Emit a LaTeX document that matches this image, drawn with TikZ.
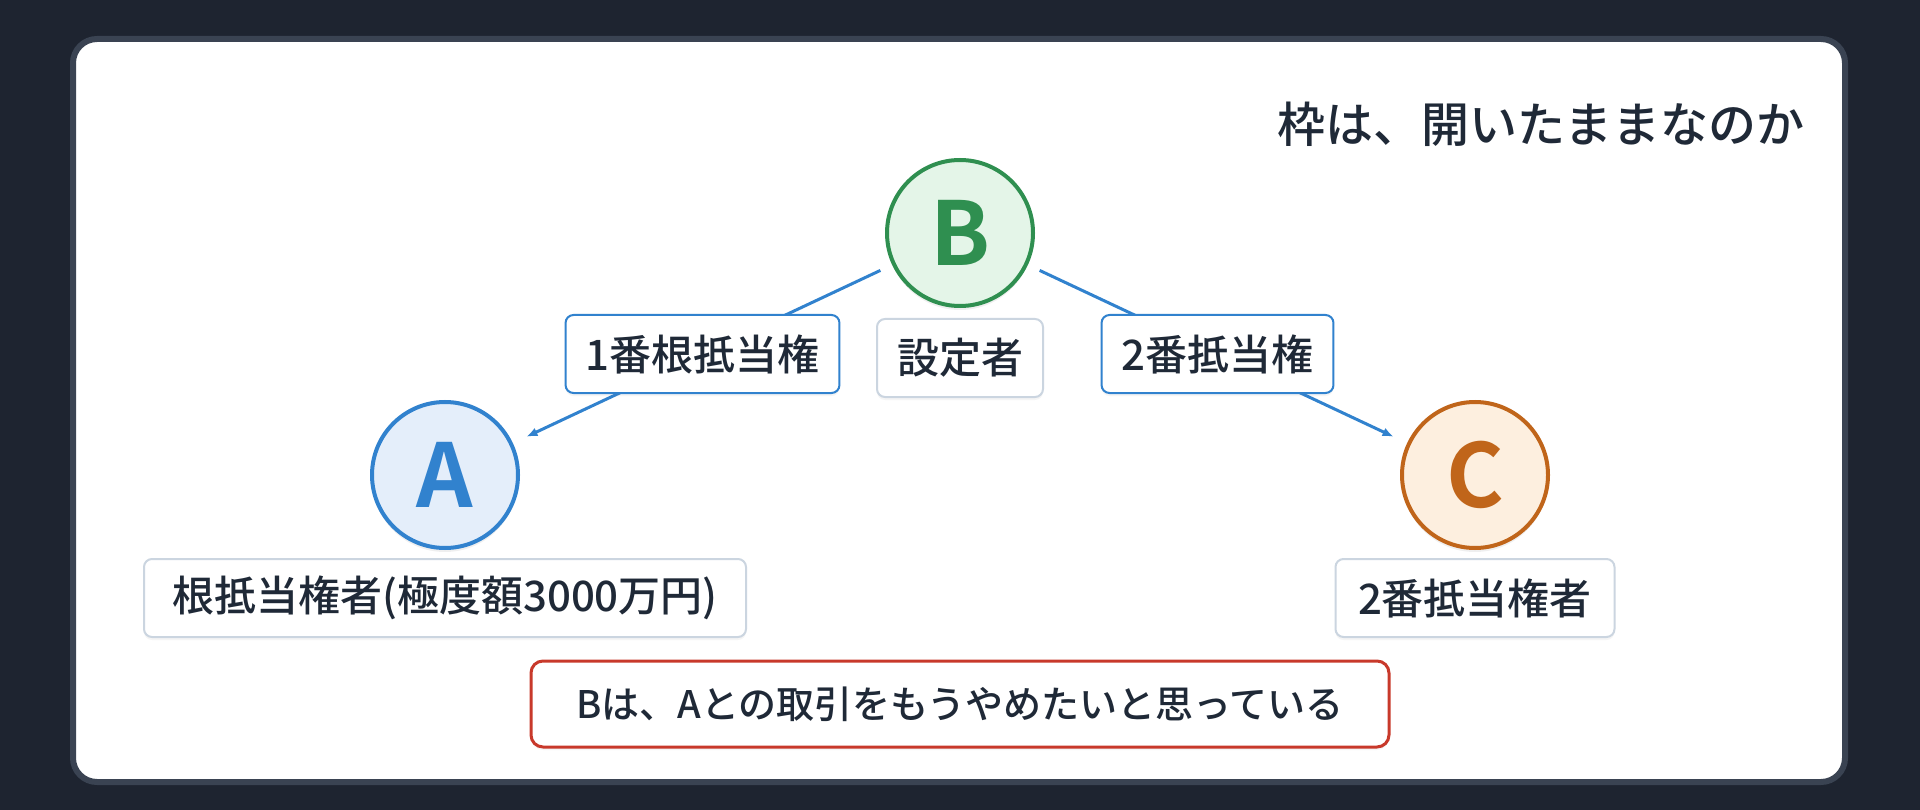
\documentclass[tikz,border=0pt]{standalone}
\usepackage{fontspec}
\setmainfont{Noto Sans CJK JP}[UprightFont={* Medium}, BoldFont={* Bold}]
\usetikzlibrary{arrows.meta,shadows}
\definecolor{bgdark}{HTML}{1E2430}
\definecolor{panelline}{HTML}{3A4352}
\definecolor{ink}{HTML}{1F2937}
\definecolor{blueline}{HTML}{3182CE}
\definecolor{bluefill}{HTML}{E4EEFA}
\definecolor{greenline}{HTML}{2F8F50}
\definecolor{greenfill}{HTML}{E4F5E8}
\definecolor{orangeline}{HTML}{C0651A}
\definecolor{orangefill}{HTML}{FDEFDF}
\definecolor{grayline}{HTML}{CBD5E0}
\definecolor{redline}{HTML}{C8392B}

\begin{document}
\begin{tikzpicture}[x=1pt, y=-1pt,
    party/.style={circle, line width=4pt, minimum size=146pt, inner sep=0pt,
      font=\fontsize{88}{88}\selectfont\bfseries,
      drop shadow={opacity=0.12, shadow xshift=0pt, shadow yshift=-4pt}},
    infobox/.style={rectangle, rounded corners=8pt, draw=grayline, line width=2pt,
      fill=white, text=ink, minimum height=78pt, inner xsep=20pt,
      font=\fontsize{42}{46}\selectfont,
      drop shadow={opacity=0.08, shadow xshift=0pt, shadow yshift=-3pt}},
    edgebox/.style={infobox, draw=blueline},
    link/.style={draw=blueline, line width=3pt, -{Latex[length=11pt,width=9pt]},
      shorten <=13pt, shorten >=15pt}]
    \useasboundingbox (0,0) rectangle (1920,810);
    \fill[bgdark] (0,0) rectangle (1920,810);
    \draw[panelline, fill=white, line width=6pt, rounded corners=24pt] (73,39) rectangle (1845,782);

    \node[anchor=east, text=ink, font=\fontsize{48}{52}\selectfont] (title) at (1808,124) {枠は、開いたままなのか};

    \node[party, draw=greenline, fill=greenfill, text=greenline] (B) at (960,233) {B};
    \node[party, draw=blueline, fill=bluefill, text=blueline] (A) at (445,475) {A};
    \node[party, draw=orangeline, fill=orangefill, text=orangeline] (C) at (1475,475) {C};

    \node[infobox, minimum width=166pt] (setter) at (960,358) {設定者};
    \node[infobox, minimum width=602pt] (Alabel) at (445,598) {根抵当権者(極度額3000万円)};
    \node[infobox, minimum width=279pt] (Clabel) at (1475,598) {2番抵当権者};

    \draw[link] (B) -- node[edgebox, minimum width=272pt] (first) {1番根抵当権} (A);
    \draw[link] (B) -- node[edgebox, minimum width=230pt] (second) {2番抵当権} (C);

    \node[infobox, draw=redline, line width=3pt, rounded corners=12pt,
      minimum width=858pt, minimum height=86pt,
      font=\fontsize{38}{42}\selectfont] (wish) at (960,704) {Bは、Aとの取引をもうやめたいと思っている};
  \end{tikzpicture}
\end{document}
